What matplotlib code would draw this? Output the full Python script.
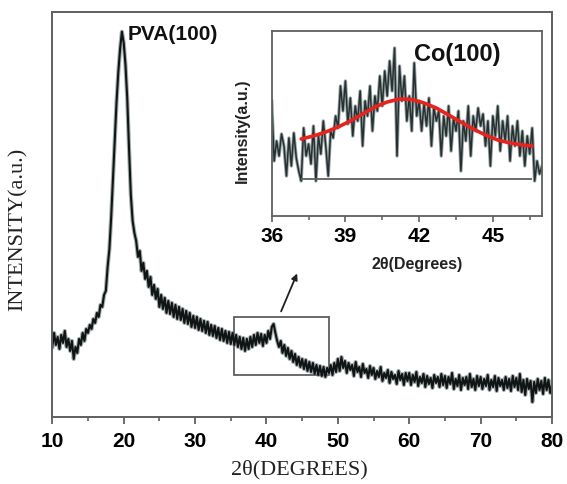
import numpy as np
import matplotlib
matplotlib.use("Agg")
import matplotlib.pyplot as plt
from matplotlib.patches import Rectangle
from matplotlib.ticker import MultipleLocator
from matplotlib.font_manager import FontProperties

# main XRD pattern, 2theta step 0.25 deg (10 .. 80)
two_theta = np.arange(10, 80.001, 0.25)
intensity = [
    70, 84, 72, 80, 68, 82, 74, 86, 70, 78, 66, 76, 58, 70, 64, 78, 72, 84, 76, 88,
    84, 92, 88, 98, 94, 104, 100, 112, 110, 122, 126, 150, 168, 200, 238, 275, 315, 345, 368, 385,
    374, 352, 318, 268, 222, 196, 184, 176, 160, 166, 146, 154, 138, 146, 130, 140, 122, 132, 118, 128,
    110, 122, 108, 119, 104, 116, 103, 114, 100, 112, 98, 110, 97, 108, 94, 106, 93, 104, 90, 101,
    89, 100, 87, 98, 86, 96, 84, 95, 82, 92, 81, 91, 79, 89, 77, 88, 76, 86, 74, 85,
    73, 84, 72, 82, 70, 80, 68, 79, 66, 78, 68, 80, 70, 82, 72, 84, 74, 83, 71, 82,
    74, 86, 78, 90, 93, 84, 76, 70, 76, 64, 72, 61, 69, 58, 66, 55, 63, 52, 60, 50,
    58, 48, 57, 46, 55, 45, 54, 43, 52, 42, 51, 41, 50, 40, 49, 44, 52, 42, 54, 45,
    58, 46, 60, 49, 56, 44, 54, 47, 52, 41, 55, 45, 50, 40, 53, 44, 48, 39, 51, 42,
    49, 38, 46, 40, 50, 36, 44, 39, 47, 34, 45, 38, 42, 33, 46, 37, 43, 32, 44, 36,
    44, 32, 42, 35, 45, 31, 40, 34, 43, 30, 41, 33, 39, 29, 42, 34, 40, 30, 43, 32,
    41, 29, 40, 33, 44, 28, 38, 31, 42, 27, 39, 32, 40, 28, 43, 30, 38, 27, 41, 31,
    40, 28, 38, 31, 42, 27, 37, 30, 41, 26, 39, 31, 37, 27, 40, 29, 38, 26, 41, 30,
    39, 27, 43, 25, 37, 22, 38, 28, 36, 15, 35, 24, 38, 27, 36, 23, 39, 27, 37, 24,
    32,
]

# inset: Co(100) region, step 0.1 deg (36 .. 47.1)
inset_theta = np.arange(36, 47.101, 0.1)
inset_int = [
    115, 55, 75, 60, 82, 70, 40, 78, 50, 83,
    58, 45, 35, 88, 60, 72, 52, 90, 35, 80,
    62, 95, 70, 40, 85, 78, 100, 88, 130, 105,
    135, 92, 118, 80, 110, 95, 125, 70, 115, 100,
    130, 85, 120, 105, 140, 110, 145, 120, 155, 125,
    168, 60, 150, 115, 140, 95, 120, 85, 153, 100,
    115, 85, 112, 90, 118, 70, 108, 95, 105, 60,
    100, 80, 110, 65, 98, 85, 105, 45, 95, 75,
    110, 60, 100, 85, 108, 90, 102, 70, 95, 50,
    100, 80, 110, 65, 95, 75, 100, 55, 90, 70,
    95, 60, 85, 50, 80, 62, 88, 35, 55, 42,
    50, 38,
]

# fitted peak (red)
fit_theta = [37.2, 37.7, 38.2, 38.7, 39.2, 39.7, 40.2, 40.7, 41.2, 41.7,
             42.2, 42.7, 43.2, 43.7, 44.2, 44.7, 45.2, 45.7, 46.2, 46.6]
fit_int = [77, 80, 84, 89, 95, 102, 109, 114, 117, 116.5,
           113, 108, 101, 94, 87, 81, 76, 73, 71, 70]
fit_base = 37

main_ticks = [10, 20, 30, 40, 50, 60, 70, 80]
inset_ticks = [36, 39, 42, 45]

W, H = 567, 485
fig = plt.figure(figsize=(W / 100, H / 100), dpi=100, facecolor="white")

spine_col = "#5c6060"
line_col = "#101414"
halo_col = "#6b7b7b"
tick_fp = FontProperties(family="Liberation Sans", weight="bold", size=15)

# main axes
ax = fig.add_axes([52.3 / W, 1 - 418 / H, (552 - 52.3) / W, (418 - 12.7) / H])
ax.plot(two_theta, intensity, color=halo_col, lw=3.0, alpha=0.6)
ax.plot(two_theta, intensity, color=line_col, lw=1.5)
ax.set_xlim(10, 80)
ax.set_ylim(0, 405)
ax.set_xticks(main_ticks)
ax.xaxis.set_minor_locator(MultipleLocator(5))
ax.set_yticks([])
ax.tick_params(axis="x", which="major", direction="out", length=5, width=1.3,
               color=spine_col, pad=5)
ax.tick_params(axis="x", which="minor", direction="out", length=3, width=1.2,
               color=spine_col)
for lab in ax.get_xticklabels():
    lab.set_fontproperties(tick_fp)
for s in ax.spines.values():
    s.set_color(spine_col)
    s.set_linewidth(1.4)

ax.add_patch(Rectangle((35.45, 42), 48.75 - 35.45, 100 - 42, fill=False,
                       edgecolor=spine_col, lw=1.3))
ax.annotate("", xy=(44.45, 146), xytext=(41.9, 103),
            arrowprops=dict(arrowstyle="-|>", color="#202020", lw=1.3,
                            mutation_scale=9))
ax.text(20.6, 383, "PVA(100)", ha="left", va="center",
        family="Liberation Sans", weight="bold", size=15, color="#111111")

fig.text(18 / W, 1 - 229 / H, "INTENSITY(a.u.)", rotation=90, ha="center",
         va="center", family="Liberation Serif", size=16, color="#222222")
fig.text(299 / W, 1 - 470 / H, "2\u03b8(DEGREES)", ha="center", va="center",
         family="Liberation Serif", size=16, color="#222222")

# inset axes
ai = fig.add_axes([271.7 / W, 1 - 217 / H, (542 - 271.7) / W, (217 - 32) / H])
ai.set_facecolor("white")
ai.plot(inset_theta, inset_int, color=halo_col, lw=2.4, alpha=0.7)
ai.plot(inset_theta, inset_int, color="#263030", lw=1.1)
ai.hlines(fit_base, fit_theta[0], fit_theta[-1], color=spine_col, lw=1.3)
ai.plot(fit_theta, fit_int, color="#e8221c", lw=2.6, solid_capstyle="round")
ai.set_xlim(36, 47)
ai.set_ylim(0, 185)
ai.set_xticks(inset_ticks)
ai.xaxis.set_minor_locator(MultipleLocator(1.5))
ai.set_yticks([])
ai.tick_params(axis="x", which="major", direction="out", length=4, width=1.2,
               color=spine_col, pad=3)
ai.tick_params(axis="x", which="minor", direction="out", length=3, width=1.1,
               color=spine_col)
for lab in ai.get_xticklabels():
    lab.set_fontproperties(tick_fp)
for s in ai.spines.values():
    s.set_color(spine_col)
    s.set_linewidth(1.3)
ai.text(41.8, 162, "Co(100)", ha="left", va="center",
        family="Liberation Sans", weight="bold", size=17, color="#111111")

fig.text(417 / W, 1 - 265 / H, "2\u03b8(Degrees)", ha="center", va="center",
         family="Liberation Sans", weight="bold", size=11.5, color="#222222")
fig.text(242 / W, 1 - 131 / H, "Intensity(a.u.)", rotation=90, ha="center",
         va="center", family="Liberation Sans", weight="bold", size=11.5,
         color="#222222")

fig.savefig("out.png", dpi=100)
